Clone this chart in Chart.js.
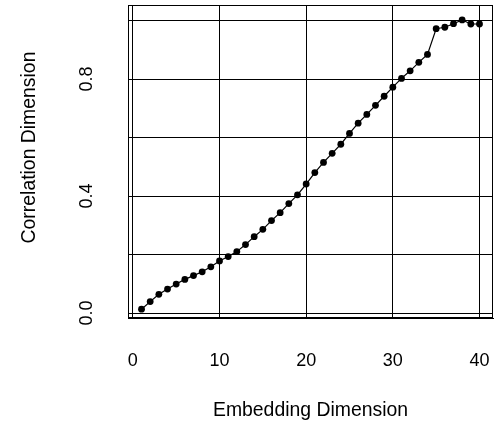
<!DOCTYPE html>
<html>
<head>
<meta charset="utf-8">
<script src="https://cdn.jsdelivr.net/npm/chart.js@4"></script>
<style>
  body { margin: 0; background: #fff; }
  canvas { display: block; }
</style>
</head>
<body>
<canvas id="myChart" width="497" height="427"></canvas>
<script>
// embedding dimension (x) and correlation dimension (y)
var dims = [1, 2, 3, 4, 5, 6, 7, 8, 9, 10,
            11, 12, 13, 14, 15, 16, 17, 18, 19, 20,
            21, 22, 23, 24, 25, 26, 27, 28, 29, 30,
            31, 32, 33, 34, 35, 36, 37, 38, 39, 40];
var corrDim = [0.013, 0.039, 0.064, 0.082, 0.099, 0.115, 0.128, 0.141, 0.158, 0.178,
               0.193, 0.210, 0.234, 0.261, 0.286, 0.316, 0.343, 0.374, 0.404, 0.441,
               0.480, 0.515, 0.546, 0.577, 0.614, 0.649, 0.679, 0.710, 0.741, 0.772,
               0.802, 0.828, 0.857, 0.884, 0.972, 0.977, 0.989, 1.002, 0.988, 0.988];

// tick / grid positions
var xTicks = [0, 10, 20, 30, 40];
var yGrid = [0, 0.2, 0.4, 0.6, 0.8, 1.0];
var yLabelled = ['0.0', '0.4', '0.8'];
var yTitle = 'Correlation Dimension';

var points = dims.map(function (d, i) { return { x: d, y: corrDim[i] }; });

// box around the plot region (like R's box()) + the y axis title,
// which sits a bit above the middle of the plot in the original
var boxPlugin = {
    id: 'box',
    afterDraw: function (chart) {
        var a = chart.chartArea, c = chart.ctx;
        c.save();
        c.strokeStyle = '#000';
        c.lineWidth = 1;
        c.strokeRect(Math.round(a.left) + 0.5, Math.round(a.top) + 0.5,
                     Math.round(a.right - a.left) - 1, Math.round(a.bottom - a.top) - 1);

        c.translate(30, (a.top + a.bottom) / 2 - 14);
        c.rotate(-Math.PI / 2);
        c.fillStyle = '#000';
        c.font = '19.4px "Liberation Sans", Arial, sans-serif';
        c.textAlign = 'center';
        c.textBaseline = 'middle';
        c.fillText(yTitle, 0, 0);
        c.restore();
    }
};

// fixed axis sizes, no extra label padding
function noPad(scale) {
    scale.paddingTop = 0;
    scale.paddingBottom = 0;
    scale.paddingLeft = 0;
    scale.paddingRight = 0;
}

Chart.defaults.font.family = '"Liberation Sans", Arial, sans-serif';
Chart.defaults.font.size = 18;
Chart.defaults.color = '#000';

var ctx = document.getElementById('myChart').getContext('2d');

var myChart = new Chart(ctx, {
    type: 'line',
    data: {
        datasets: [{
            label: yTitle,
            data: points,
            borderColor: '#000',
            borderWidth: 1.2,
            backgroundColor: '#000',
            pointBackgroundColor: '#000',
            pointBorderWidth: 0,
            pointRadius: 3.4,
            tension: 0
        }]
    },
    plugins: [boxPlugin],
    options: {
        responsive: false,
        animation: false,
        layout: { padding: { top: 5, right: 2, left: 0, bottom: 0 } },
        plugins: {
            legend: { display: false },
            tooltip: { enabled: false }
        },
        scales: {
            x: {
                type: 'linear',
                min: -0.56,
                max: 41.56,
                afterBuildTicks: function (scale) {
                    scale.ticks = xTicks.map(function (v) { return { value: v }; });
                },
                afterFit: function (scale) { scale.height = 109; noPad(scale); },
                grid: { color: '#000', lineWidth: 1, drawTicks: false },
                border: { color: '#000', width: 1 },
                ticks: {
                    padding: 32,
                    maxRotation: 0,
                    autoSkip: false,
                    includeBounds: false
                },
                title: {
                    display: true,
                    text: 'Embedding Dimension',
                    font: { size: 19.4 },
                    padding: { top: 0, bottom: 5 }
                }
            },
            y: {
                min: -0.017,
                max: 1.053,
                afterBuildTicks: function (scale) {
                    scale.ticks = yGrid.map(function (v) { return { value: v }; });
                },
                afterFit: function (scale) { scale.width = 128; noPad(scale); },
                grid: { color: '#000', lineWidth: 1, drawTicks: false },
                border: { color: '#000', width: 1 },
                ticks: {
                    padding: 28,
                    minRotation: 90,
                    maxRotation: 90,
                    crossAlign: 'center',
                    autoSkip: false,
                    includeBounds: false,
                    callback: function (value) {
                        var i = yGrid.findIndex(function (v) { return Math.abs(v - value) < 1e-9; });
                        return (i % 2 === 0) ? yLabelled[i / 2] : '';
                    }
                },
                title: { display: false }
            }
        }
    }
});
</script>
</body>
</html>
